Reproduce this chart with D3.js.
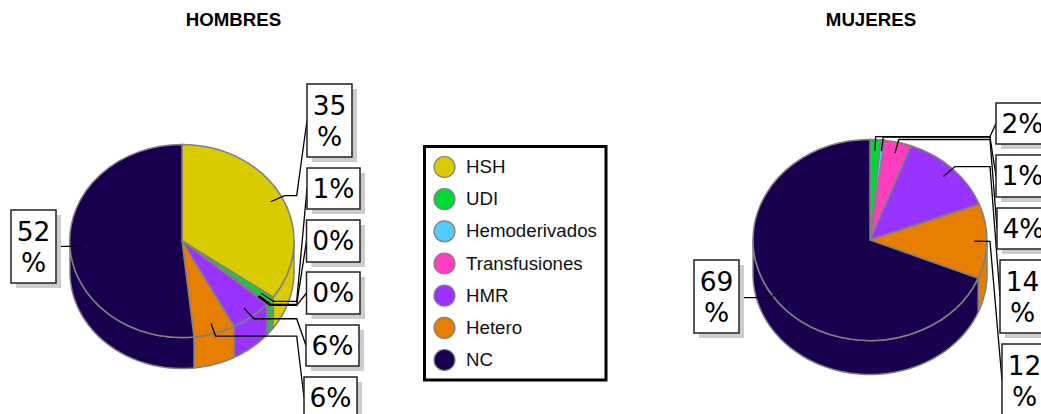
<!DOCTYPE html>
<html>
  <head>
    <meta charset="utf-8">
    <script src="https://d3js.org/d3.v7.min.js"></script>
    <style>
      html, body { margin: 0; padding: 0; background: #fff; overflow: hidden; }
      svg { display: block; }
    </style>
  </head>
  <body>
    <div id="vis"></div>
    <script>
      // Data (percent)
      var categories = ["HSH", "UDI", "Hemoderivados", "Transfusiones", "HMR", "Hetero", "NC"]
      var hombres = [34.9, 1, 0.2, 0.2, 6, 6, 51.7]
      var mujeres = [0, 1.5, 0.5, 3.7, 13.5, 12, 68.8]
      var colors = ["#d8cb00", "#00d836", "#55ccff", "#ff3dbe", "#9933ff", "#e67e00", "#19004f"]

      // Label boxes, one per non-empty slice: [x0, y0, x1, y1]
      var hombresBoxes = [
        [307, 84, 352, 157], [307, 168, 360, 209], [306.5, 220, 360, 262], [306.5, 272, 360, 314],
        [306, 325, 359, 366], [304, 377, 357, 418], [11, 210, 56, 283]
      ]
      var mujeresBoxes = [
        [996, 103, 1049, 144], [996, 155, 1049, 197], [997, 208, 1050, 249],
        [1000, 260, 1045, 333], [1002, 344, 1047, 417], [694, 260, 739, 333]
      ]

      var svg = d3.select("#vis").append("svg")
        .attr("width", 1041)
        .attr("height", 414)

      var pie = d3.pie().sort(null).value(function(d) { return d.value })
      var rimColor = "#808080"
      var labelFont = '"DejaVu Sans", sans-serif'
      var sansFont = '"Liberation Sans", Arial, sans-serif'

      function drawPie(title, titleX, values, boxes, o) {
        var rows = categories.map(function(c, i) {
          return {name: c, value: values[i], color: colors[i]}
        }).filter(function(d) { return d.value > 0 })
        var arcs = pie(rows)

        // unit circle -> tilted ellipse
        var x = d3.scaleLinear().domain([-1, 1]).range([o.cx - o.rx, o.cx + o.rx])
        var y = d3.scaleLinear().domain([-1, 1]).range([o.cy - o.ry, o.cy + o.ry])
        function px(a, r) { return x(Math.sin(a) * r) }
        function py(a, r) { return y(-Math.cos(a) * r) }

        svg.append("text")
          .text(title)
          .attr("x", titleX)
          .attr("y", 26)
          .attr("text-anchor", "middle")
          .attr("font-family", sansFont)
          .attr("font-weight", "bold")
          .attr("font-size", 18.7)

        // Side wall, only the front half (90deg to 270deg) shows
        var line = d3.line()
        arcs.forEach(function(d) {
          var a0 = Math.max(d.startAngle, Math.PI / 2)
          var a1 = Math.min(d.endAngle, Math.PI * 1.5)
          if (a1 <= a0) return
          var steps = d3.range(a0, a1, 0.02).concat([a1])
          var front = steps.map(function(a) { return [px(a, 1), py(a, 1) + o.depth] })
          var back = steps.slice().reverse().map(function(a) { return [px(a, 1), py(a, 1)] })
          svg.append("path")
            .attr("d", line(front.concat(back)) + "Z")
            .attr("fill", d.data.color)
            .attr("stroke", rimColor)
            .attr("stroke-width", 1.5)
        })

        // Top face
        var arc = d3.arc().innerRadius(0).outerRadius(1)
        var top = svg.append("g")
          .attr("transform", "translate(" + o.cx + "," + o.cy + ") scale(" + o.rx + "," + o.ry + ")")
        top.selectAll("path")
          .data(arcs)
          .join("path")
          .attr("d", arc)
          .attr("fill", function(d) { return d.data.color })
          .attr("stroke", rimColor)
          .attr("stroke-width", 1.5)
          .attr("vector-effect", "non-scaling-stroke")

        // Leaders and boxes
        arcs.forEach(function(d, i) {
          var b = boxes[i]
          var mid = (d.startAngle + d.endAngle) / 2
          var sx = px(mid, 0.89), sy = py(mid, 0.89)
          var ex = px(mid, 1.03), ey = py(mid, 1.03)
          var boxY = (b[1] + b[3]) / 2
          var pts = [[sx, sy], [ex, ey]]
          if (b[0] > o.cx) {
            pts.push([o.turnX, ey], [b[0], boxY])
          } else {
            pts.push([b[2], ey])
          }
          svg.append("path")
            .attr("d", line(pts))
            .attr("fill", "none")
            .attr("stroke", "#000")
            .attr("stroke-width", 1.3)
        })

        arcs.forEach(function(d, i) {
          var b = boxes[i]
          svg.append("rect")
            .attr("x", b[0] + 5).attr("y", b[1] + 5)
            .attr("width", b[2] - b[0]).attr("height", b[3] - b[1])
            .attr("fill", "#ccc")
          svg.append("rect")
            .attr("x", b[0]).attr("y", b[1])
            .attr("width", b[2] - b[0]).attr("height", b[3] - b[1])
            .attr("fill", "#fff")
            .attr("stroke", "#222")
            .attr("stroke-width", 1.5)

          var label = Math.round(d.data.value)
          var mx = (b[0] + b[2]) / 2
          var t = svg.append("text")
            .attr("font-family", labelFont)
            .attr("font-size", 26.5)
            .attr("text-anchor", "middle")
            .attr("fill", "#000")
          if (label >= 10) {
            // wide labels wrap the percent sign onto a second line
            t.append("tspan").attr("x", mx).attr("y", b[1] + 31).text(label)
            t.append("tspan").attr("x", mx).attr("y", b[1] + 62).text("%")
          } else {
            t.attr("x", mx).attr("y", b[1] + 30).text(label + "%")
          }
        })
      }

      drawPie("HOMBRES", 233.5, hombres, hombresBoxes,
        {cx: 182, cy: 241, rx: 112, ry: 96.5, depth: 31, turnX: 296.7})
      drawPie("MUJERES", 871, mujeres, mujeresBoxes,
        {cx: 870, cy: 240, rx: 117, ry: 100.5, depth: 34, turnX: 990})

      // Legend
      var legendY = d3.scalePoint().domain(categories).range([167, 360])
      svg.append("rect")
        .attr("x", 424.5).attr("y", 146.5)
        .attr("width", 181.5).attr("height", 233.5)
        .attr("fill", "#fff")
        .attr("stroke", "#000")
        .attr("stroke-width", 3)

      var legend = svg.selectAll(".legend")
        .data(categories)
        .join("g")
        .attr("class", "legend")
        .attr("transform", function(d) { return "translate(0," + legendY(d) + ")" })

      legend.append("circle")
        .attr("cx", 444.5)
        .attr("r", 10.5)
        .attr("fill", function(d, i) { return colors[i] })
        .attr("stroke", rimColor)
        .attr("stroke-width", 1.2)

      legend.append("text")
        .text(function(d) { return d })
        .attr("x", 466)
        .attr("y", 6)
        .attr("font-family", sansFont)
        .attr("font-size", 18.7)
        .attr("fill", "#111")
    </script>
  </body>
</html>
